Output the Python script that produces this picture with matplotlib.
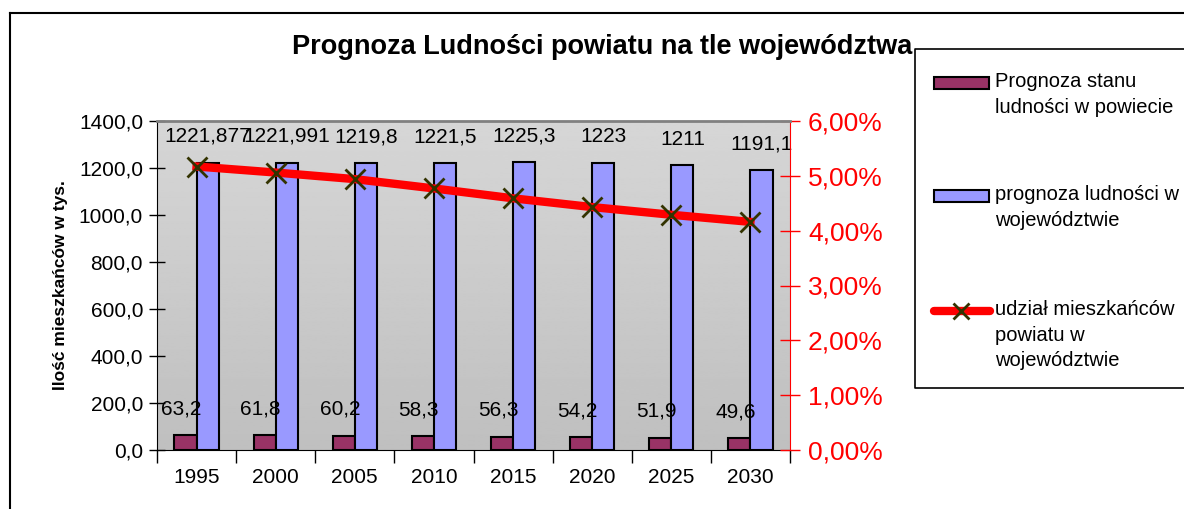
import numpy as np
import matplotlib.pyplot as plt
from matplotlib.patches import Rectangle
from matplotlib.lines import Line2D

plt.rcParams['font.family'] = ['Liberation Sans', 'DejaVu Sans']

years = ['1995', '2000', '2005', '2010', '2015', '2020', '2025', '2030']
powiat = [63.2, 61.8, 60.2, 58.3, 56.3, 54.2, 51.9, 49.6]
wojewodztwo = [1221.877, 1221.991, 1219.8, 1221.5, 1225.3, 1223, 1211, 1191.1]
udzial = [5.17, 5.06, 4.94, 4.77, 4.59, 4.43, 4.29, 4.16]

labels = ['Prognoza stanu\nludności w powiecie',
          'prognoza ludności w\nwojewództwie',
          'udział mieszkańców\npowiatu w\nwojewództwie']
c_pow = '#993366'
c_woj = '#9999ff'

W, H = 1184, 509
fig = plt.figure(figsize=(W / 100, H / 100), dpi=100)

def px(x0, y0, x1, y1):
    return [x0 / W, 1 - y1 / H, (x1 - x0) / W, (y1 - y0) / H]

ax = fig.add_axes(px(157, 121, 790, 450))
ax2 = ax.twinx()

# gradient background
grad = np.linspace(0.84, 0.75, 256).reshape(-1, 1)
ax.imshow(grad, cmap='gray', vmin=0, vmax=1, aspect='auto',
          extent=[-0.5, 7.5, 0, 1400], zorder=0)

x = np.arange(len(years))
w = 0.28
ax.bar(x - w / 2, powiat, w, color=c_pow, edgecolor='black', linewidth=1.5, zorder=2)
ax.bar(x + w / 2, wojewodztwo, w, color=c_woj, edgecolor='black', linewidth=1.5, zorder=2)

def fmt(v):
    return f"{v:.3f}".rstrip('0').rstrip('.').replace('.', ',')

for xi, v in zip(x, powiat):
    ax.annotate(fmt(v), (xi - w / 2 - 0.05, v), xytext=(0, 19), textcoords='offset points',
                ha='center', va='center', fontsize=15, zorder=3)
for xi, v in zip(x, wojewodztwo):
    ax.annotate(fmt(v), (xi + w / 2, v), xytext=(0, 19), textcoords='offset points',
                ha='center', va='center', fontsize=15, zorder=3)

ax2.plot(x, udzial, color='red', linewidth=6, marker='x', markersize=14,
         markeredgecolor='#333300', markeredgewidth=2, zorder=4)

ax.set_xlim(-0.5, 7.5)
ax.set_ylim(0, 1400)
ax2.set_ylim(0, 6)

ax.set_yticks(np.arange(0, 1401, 200))
ax.set_yticklabels([f"{v:.1f}".replace('.', ',') for v in np.arange(0, 1401, 200)], fontsize=15)
ax.tick_params(axis='y', direction='inout', length=12, width=1, pad=4)

ax.set_xticks(x)
ax.set_xticklabels(years, fontsize=15)
ax.set_xticks(np.arange(-0.5, 8, 1), minor=True)
ax.tick_params(axis='x', which='major', length=0, pad=13)
ax.tick_params(axis='x', which='minor', direction='out', length=9, width=1)

ax2.set_yticks(np.arange(0, 7, 1))
ax2.set_yticklabels([f"{v:.2f}".replace('.', ',') + '%' for v in np.arange(0, 7, 1)],
                    fontsize=19, color='red')
ax2.tick_params(axis='y', direction='inout', length=14, width=1, color='red', pad=6)

for s in ['top', 'right']:
    ax.spines[s].set_visible(False)
ax.spines['left'].set_color('black')
ax.spines['bottom'].set_color('black')
ax2.spines['top'].set_color('#808080')
ax2.spines['top'].set_linewidth(2)
ax2.spines['right'].set_color('red')
ax2.spines['left'].set_visible(False)
ax2.spines['bottom'].set_visible(False)

# overlay for title, border and legend in pixel coords
ov = fig.add_axes([0, 0, 1, 1], zorder=10)
ov.set_xlim(0, W)
ov.set_ylim(H, 0)
ov.axis('off')
ov.patch.set_alpha(0)

ov.add_line(Line2D([10, W], [13, 13], color='black', linewidth=1.5))
ov.add_line(Line2D([10, 10], [13, H], color='black', linewidth=1.5))

ov.text(602, 47, 'Prognoza Ludności powiatu na tle województwa', fontsize=19.5,
        fontweight='bold', ha='center', va='center')
ov.text(60, 285, 'Ilość mieszkańców w tys.', fontsize=12.5, fontweight='bold',
        rotation=90, ha='center', va='center')

ov.add_line(Line2D([W + 5, 915, 915, W + 5], [49, 49, 388, 388], color='black', linewidth=1.2))

tops = [83, 196, 311]
ov.add_patch(Rectangle((934, tops[0] - 6), 55, 12, facecolor=c_pow, edgecolor='black', linewidth=1.5))
ov.add_patch(Rectangle((934, tops[1] - 6), 55, 12, facecolor=c_woj, edgecolor='black', linewidth=1.5))
ov.add_line(Line2D([934, 990], [tops[2], tops[2]], color='red', linewidth=6, solid_capstyle='round'))
ov.add_line(Line2D([961], [tops[2]], marker='x', markersize=12, markeredgecolor='#333300',
                   markeredgewidth=2, linestyle='none'))
for t, lab in zip(tops, labels):
    ov.text(995, t - 11, lab, fontsize=14.5, ha='left', va='top', linespacing=1.45)

fig.savefig('out.png', dpi=100)
